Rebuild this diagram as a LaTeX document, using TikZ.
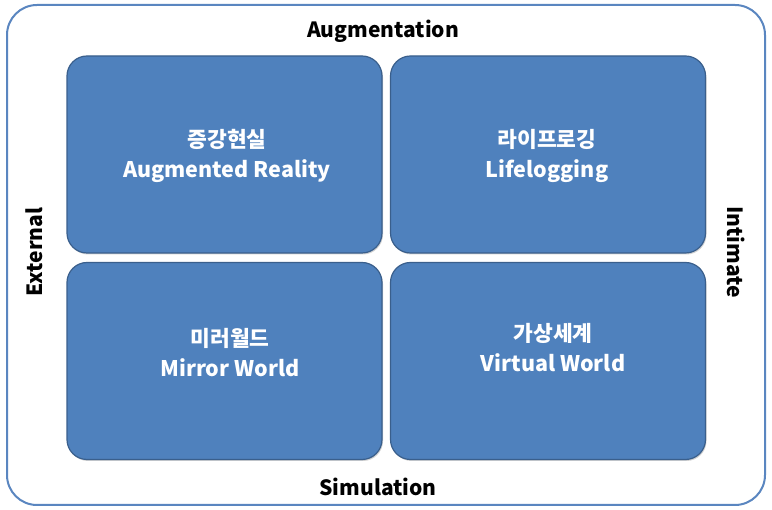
\documentclass[tikz,border=0pt]{standalone}
\usepackage{fontspec}
\setmainfont{Noto Sans CJK KR}
\usepackage{tikz}
\usetikzlibrary{positioning,shadows}
\definecolor{QuadFill}{HTML}{4F81BD}
\definecolor{QuadEdge}{HTML}{3A5F8C}
\definecolor{FrameEdge}{HTML}{5A86C0}
\tikzset{
  % Outer frame
  frame/.style={draw=FrameEdge,line width=2pt,rounded corners=30pt,fill=white},
  % Quadrant box
  quad/.style={rectangle,rounded corners=20pt,minimum width=315pt,minimum height=197pt,
               draw=QuadEdge,line width=1.2pt,fill=QuadFill,
               drop shadow={shadow xshift=1pt,shadow yshift=-1.5pt,opacity=0.35}},
  % Quadrant text
  qtext/.style={text=white,align=center,font=\fontsize{21.5}{30}\selectfont\bfseries},
  % Axis labels
  axis/.style={font=\fontsize{21}{24}\selectfont\bfseries,text=black}
}
\begin{document}
\begin{tikzpicture}[x=1pt,y=-1pt]
  \useasboundingbox (0,0) rectangle (772,510);
  \draw[frame] (7,5) rectangle (765,505);

  \node[quad] (ar) at (224.5,154.5) {};
  \node[quad] (ll) at (548,154.5)   {};
  \node[quad] (mw) at (224.5,361)   {};
  \node[quad] (vw) at (548,361)     {};

  \node[qtext] (arT) at (227,156) {증강현실\\Augmented Reality};
  \node[qtext] (llT) at (547,156) {라이프로깅\\Lifelogging};
  \node[qtext] (mwT) at (230,353) {미러월드\\Mirror World};
  \node[qtext] (vwT) at (553,348) {가상세계\\Virtual World};

  \node[axis] (aug) at (383,31)  {Augmentation};
  \node[axis] (sim) at (378,487) {Simulation};
  \node[axis,rotate=90]  (ext) at (34,252)  {External};
  \node[axis,rotate=-90] (int) at (736,252) {Intimate};
\end{tikzpicture}
\end{document}
